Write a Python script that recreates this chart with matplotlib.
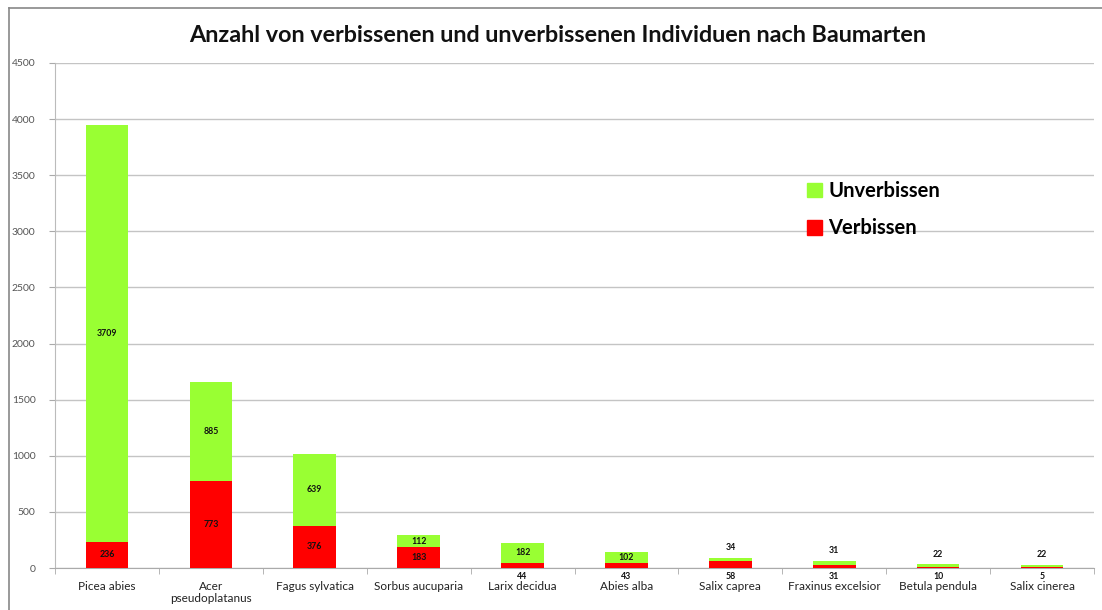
import matplotlib
matplotlib.use("Agg")
import matplotlib.pyplot as plt
from matplotlib.lines import Line2D
from matplotlib.patches import Patch
import numpy as np

plt.rcParams['font.family'] = ['Lato', 'DejaVu Sans']

species = ["Picea abies", "Acer\npseudoplatanus", "Fagus sylvatica", "Sorbus aucuparia",
           "Larix decidua", "Abies alba", "Salix caprea", "Fraxinus excelsior",
           "Betula pendula", "Salix cinerea"]
verbissen = [236, 773, 376, 183, 44, 43, 58, 31, 10, 5]
unverbissen = [3709, 885, 639, 112, 182, 102, 34, 31, 22, 22]
yticks = [0, 500, 1000, 1500, 2000, 2500, 3000, 3500, 4000, 4500]

GREEN = "#99ff33"
RED = "#ff0000"
GRID = "#c4c4c4"

fig = plt.figure(figsize=(11.02, 6.10), dpi=100)
ax = fig.add_axes([55 / 1102, 42 / 610, 1039 / 1102, 505 / 610])

x = np.arange(len(species))
width = 0.41
ax.bar(x, verbissen, width, color=RED, zorder=3)
ax.bar(x, unverbissen, width, bottom=verbissen, color=GREEN, zorder=3)

ax.set_xlim(-0.5, len(species) - 0.5)
ax.set_ylim(0, 4500)
ax.set_yticks(yticks)
ax.set_yticklabels([str(t) for t in yticks], fontsize=7.5, color="#555555")
ax.yaxis.grid(True, color=GRID, linewidth=1.0, zorder=0)
ax.set_axisbelow(True)

ax.set_xticks(x)
ax.set_xticklabels(species, fontsize=8.5, color="#222222", linespacing=1.15)
ax.set_xticks(np.arange(-0.5, len(species)), minor=True)
ax.tick_params(axis="x", which="major", length=0, pad=9)
ax.tick_params(axis="x", which="minor", length=4, color="#aaaaaa", direction="out")
ax.tick_params(axis="y", length=4, color="#aaaaaa", pad=10)

for side in ("top", "right"):
    ax.spines[side].set_visible(False)
ax.spines["left"].set_color("#bbbbbb")
ax.spines["bottom"].set_color("#aaaaaa")

# value labels: inside segments when tall enough, otherwise outside the bar
lab_kw = dict(ha="center", va="center", fontsize=6.3, fontweight="bold", color="#111111", zorder=4)
for xi, v, u in zip(x, verbissen, unverbissen):
    if v >= 100:
        ax.text(xi, v / 2, str(v), **lab_kw)
    else:
        ax.text(xi, -75, str(v), **lab_kw)
    if u >= 100:
        ax.text(xi, v + u / 2, str(u), **lab_kw)
    else:
        ax.text(xi, v + u + 90, str(u), **lab_kw)

fig.text(0.506, 0.941, "Anzahl von verbissenen und unverbissenen Individuen nach Baumarten",
         ha="center", va="center", fontsize=16.8, fontweight="bold", color="#111111")

handles = [Patch(color=GREEN, label="Unverbissen"), Patch(color=RED, label="Verbissen")]
fig.legend(handles=handles, loc="upper left", bbox_to_anchor=(789 / 1102, 1 - 163 / 610),
           frameon=False, handlelength=0.75, handleheight=0.75,
           handletextpad=0.3, labelspacing=0.85,
           prop={"weight": "bold", "size": 14.5})

# outer chart frame
fig.add_artist(Line2D([9 / 1102, 1.0], [1 - 8 / 610, 1 - 8 / 610], color="#888888", linewidth=1.2))
fig.add_artist(Line2D([9 / 1102, 9 / 1102], [0, 1 - 8 / 610], color="#888888", linewidth=1.2))

fig.savefig("out.png", dpi=100)
